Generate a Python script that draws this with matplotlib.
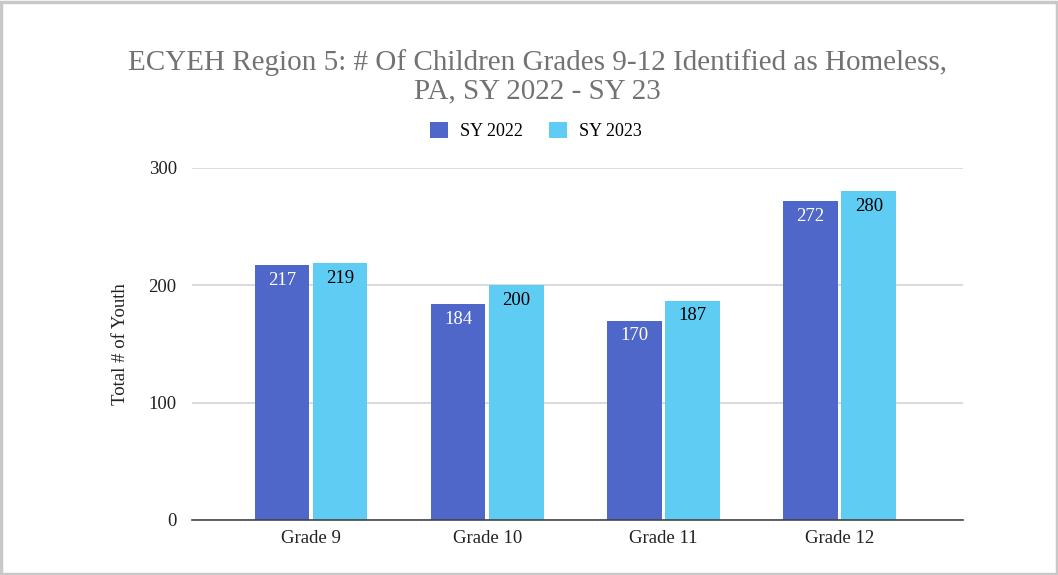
import numpy as np
import matplotlib.pyplot as plt
from matplotlib.patches import Rectangle

# chart data
grades = ['Grade 9', 'Grade 10', 'Grade 11', 'Grade 12']
sy2022 = [217, 184, 170, 272]
sy2023 = [219, 200, 187, 280]

dark = '#4E67C8'
light = '#5ECCF3'
serif = ['Liberation Serif', 'DejaVu Serif']

plt.rcParams['font.family'] = serif

fig = plt.figure(figsize=(10.58, 5.75), dpi=100)
ax = fig.add_axes([192 / 1058, 55 / 575, 771 / 1058, 352 / 575])

x = np.arange(len(grades))
w = 0.31
b1 = ax.bar(x - 0.165, sy2022, w, color=dark, label='SY 2022', zorder=3)
b2 = ax.bar(x + 0.165, sy2023, w, color=light, label='SY 2023', zorder=3)

# value labels inside the top of each bar
for bars, col in [(b1, 'white'), (b2, 'black')]:
    for r in bars:
        ax.text(r.get_x() + r.get_width() / 2, r.get_height() - 13,
                str(int(r.get_height())), ha='center', va='center',
                fontsize=13.5, color=col, zorder=4)

ax.set_xlim(-0.675, 3.70)
ax.set_ylim(0, 300)
ax.set_yticks([0, 100, 200, 300])
ax.set_xticks(x)
ax.set_xticklabels(grades)
ax.tick_params(axis='both', length=0, labelsize=13.5, colors='#222222')
ax.tick_params(axis='y', pad=11)
ax.tick_params(axis='x', pad=7)
ax.grid(axis='y', color='#d4d4d4', linewidth=1.2, zorder=0)
for s in ['top', 'right', 'left']:
    ax.spines[s].set_visible(False)
ax.spines['bottom'].set_color('#444444')
ax.spines['bottom'].set_linewidth(1.2)
ax.spines['bottom'].set_zorder(5)
ax.set_ylabel('Total # of Youth', fontsize=13.5, color='#222222', labelpad=14)

fig.text(537 / 1058, 1 - 63 / 575,
         'ECYEH Region 5: # Of Children Grades 9-12 Identified as Homeless,',
         ha='center', va='center', fontsize=21, color='#727272')
fig.text(537 / 1058, 1 - 91 / 575, 'PA, SY 2022 - SY 23',
         ha='center', va='center', fontsize=21, color='#727272')

fig.legend(handles=[b1, b2], loc='center', bbox_to_anchor=(536 / 1058, 1 - 131 / 575),
           ncol=2, frameon=False, fontsize=13, handlelength=1.0,
           handleheight=1.0, handletextpad=0.7, columnspacing=1.4)

# light frame around the whole figure
fig.patches.append(Rectangle((0.001, 0.001), 0.998, 0.995, transform=fig.transFigure,
                             fill=False, edgecolor='#c8c8c8', linewidth=2.5))

fig.savefig('out.png', dpi=100)
